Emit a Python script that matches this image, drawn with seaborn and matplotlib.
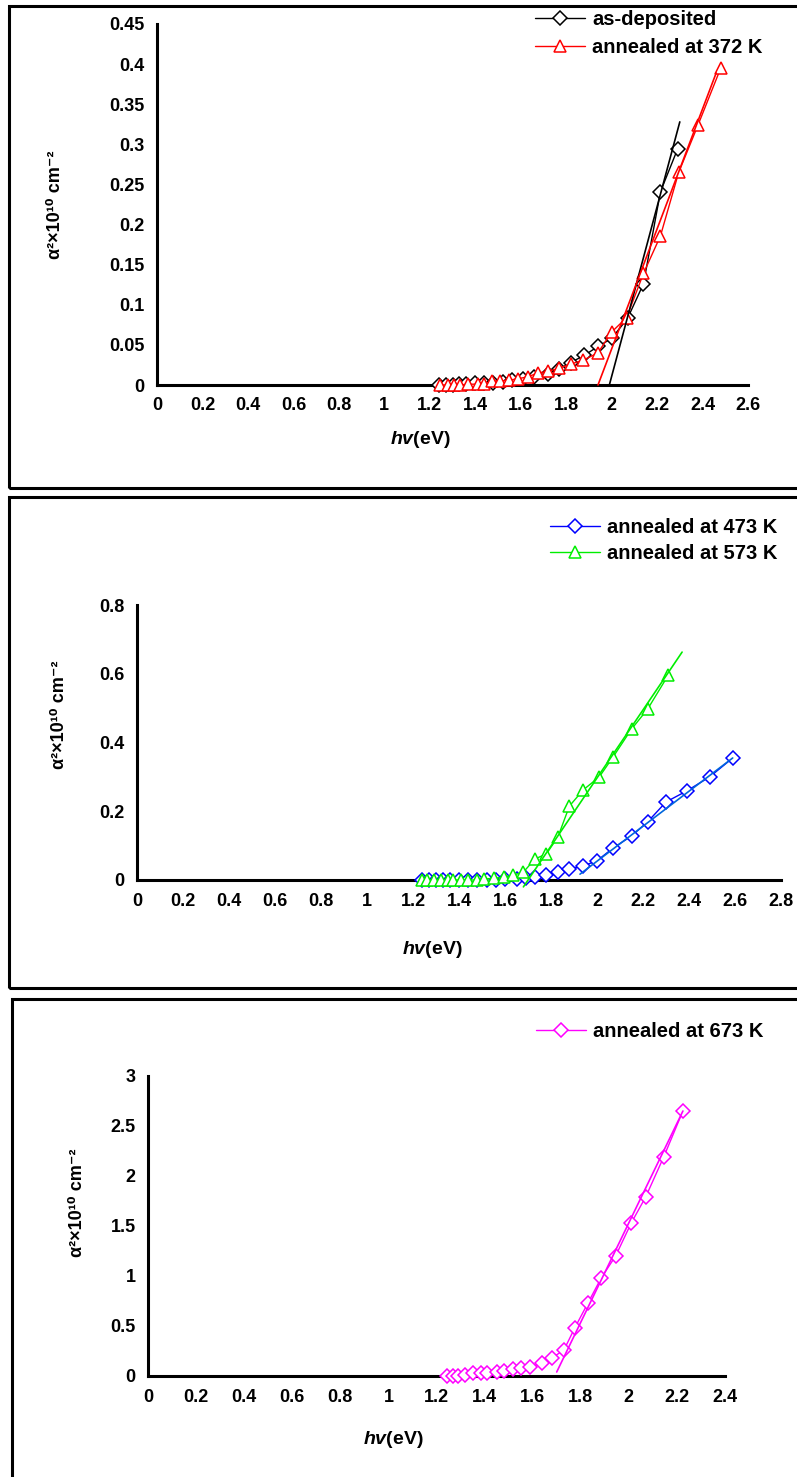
import numpy as np
import pandas as pd
import matplotlib
matplotlib.use("Agg")
import matplotlib.pyplot as plt
import seaborn as sns
from matplotlib.patches import Rectangle
from matplotlib.ticker import FixedLocator, FormatStrFormatter

# ---- panel 1 : as-deposited and annealed at 372 K ----
hv_asdep = [1.24, 1.27, 1.30, 1.33, 1.36, 1.40, 1.44, 1.48, 1.52, 1.56, 1.61, 1.66,
            1.72, 1.77, 1.82, 1.88, 1.94, 2.00, 2.07, 2.14, 2.215, 2.29]
a2_asdep = [0.0, 0.0, 0.0, 0.001, 0.001, 0.002, 0.003, 0.003, 0.004, 0.006, 0.008, 0.010,
            0.014, 0.020, 0.028, 0.037, 0.048, 0.058, 0.083, 0.126, 0.241, 0.294]
hv_372 = [1.245, 1.28, 1.305, 1.335, 1.37, 1.41, 1.44, 1.475, 1.51, 1.55, 1.59, 1.63,
          1.675, 1.72, 1.77, 1.82, 1.875, 1.94, 2.00, 2.066, 2.14, 2.215, 2.295, 2.38, 2.48]
a2_372 = [0.0, 0.0, 0.0, 0.0, 0.001, 0.001, 0.001, 0.005, 0.005, 0.006, 0.008, 0.010,
          0.015, 0.017, 0.021, 0.026, 0.031, 0.040, 0.066, 0.084, 0.139, 0.186, 0.265, 0.324, 0.395]
fit_asdep_x = [1.99, 2.30]
fit_asdep_y = [0.0, 0.328]
fit_372_x = [1.94, 2.46]
fit_372_y = [0.0, 0.389]

# ---- panel 2 : annealed at 473 K and 573 K ----
hv_473 = [1.24, 1.27, 1.30, 1.33, 1.36, 1.40, 1.44, 1.48, 1.52, 1.56, 1.60, 1.65, 1.69,
          1.73, 1.78, 1.83, 1.88, 1.94, 2.00, 2.07, 2.15, 2.22, 2.30, 2.39, 2.49, 2.59]
a2_473 = [0.0, 0.0, 0.0, 0.0, 0.0, 0.0, 0.0, 0.0, 0.0, 0.001, 0.002, 0.003, 0.005,
          0.008, 0.014, 0.024, 0.031, 0.041, 0.056, 0.093, 0.128, 0.169, 0.227, 0.259, 0.300, 0.355]
hv_573 = [1.24, 1.26, 1.29, 1.32, 1.35, 1.375, 1.41, 1.44, 1.48, 1.51, 1.55, 1.595,
          1.635, 1.68, 1.73, 1.78, 1.83, 1.88, 1.94, 2.01, 2.07, 2.15, 2.22, 2.31]
a2_573 = [0.0, 0.0, 0.0, 0.0, 0.0, 0.0, 0.0, 0.0, 0.0, 0.003, 0.005, 0.008,
          0.014, 0.023, 0.061, 0.076, 0.125, 0.215, 0.262, 0.300, 0.358, 0.439, 0.497, 0.596]
fit_473_x = [1.926, 2.59]
fit_473_y = [0.017, 0.355]
fit_573_x = [1.68, 2.37]
fit_573_y = [-0.02, 0.663]

# ---- panel 3 : annealed at 673 K ----
hv_673 = [1.245, 1.27, 1.29, 1.32, 1.35, 1.385, 1.41, 1.45, 1.48, 1.52, 1.55, 1.59,
          1.64, 1.68, 1.73, 1.775, 1.83, 1.885, 1.945, 2.01, 2.07, 2.145, 2.225]
a2_673 = [0.0, 0.0, 0.0, 0.01, 0.03, 0.03, 0.03, 0.04, 0.05, 0.07, 0.08, 0.09,
          0.13, 0.18, 0.26, 0.48, 0.73, 0.98, 1.20, 1.53, 1.79, 2.19, 2.65]
fit_673_x = [1.70, 2.225]
fit_673_y = [0.04, 2.65]

ylabel = "α²×10¹⁰ cm⁻²"
xlabel = r"$\mathit{hv}$(eV)"

sns.set_style("white")
plt.rcParams["font.family"] = ["Liberation Sans", "DejaVu Sans"]
plt.rcParams["font.weight"] = "bold"
plt.rcParams["text.color"] = "black"
plt.rcParams["xtick.color"] = "black"
plt.rcParams["ytick.color"] = "black"
plt.rcParams["mathtext.fontset"] = "custom"
plt.rcParams["mathtext.it"] = "Liberation Sans:italic:bold"
plt.rcParams["mathtext.rm"] = "Liberation Sans:bold"

W, H = 797, 1477
fig = plt.figure(figsize=(W / 100, H / 100), dpi=100)


def fx(px):
    return px / W


def fy(py):
    return 1 - py / H


def make_axes(left, right, top, bottom, xmax, ymax, ystep):
    ax = fig.add_axes([fx(left), fy(bottom), (right - left) / W, (bottom - top) / H])
    ax.set_xlim(0, xmax)
    ax.set_ylim(0, ymax)
    ax.xaxis.set_major_locator(FixedLocator(np.arange(0, xmax + 0.001, 0.2)))
    ax.yaxis.set_major_locator(FixedLocator(np.arange(0, ymax + ystep / 10, ystep)))
    ax.xaxis.set_major_formatter(FormatStrFormatter("%g"))
    ax.yaxis.set_major_formatter(FormatStrFormatter("%g"))
    for s in ["top", "right"]:
        ax.spines[s].set_visible(False)
    for s in ["left", "bottom"]:
        ax.spines[s].set_linewidth(2.2)
        ax.spines[s].set_color("black")
    ax.tick_params(direction="in", length=4, width=2, labelsize=13, pad=9,
                   color="black", labelcolor="black")
    for lab in ax.get_xticklabels() + ax.get_yticklabels():
        lab.set_fontweight("bold")
    ax.patch.set_alpha(0)
    return ax


def series(ax, x, y, color, marker, label, ms):
    sns.lineplot(x=x, y=y, ax=ax, color=color, marker=marker, markersize=ms,
                 markerfacecolor="white", markeredgecolor=color, markeredgewidth=1.1,
                 linewidth=1.0, sort=False, label=label, clip_on=False, zorder=3)


def fitline(ax, x, y, color):
    sns.lineplot(x=x, y=y, ax=ax, color=color, linewidth=1.2, sort=False,
                 label="_nolegend_", clip_on=False, zorder=4)


def legend(ax, left, top, spacing):
    leg = ax.legend(loc="upper left", bbox_to_anchor=(fx(left), fy(top)),
                    bbox_transform=fig.transFigure, frameon=False,
                    prop={"weight": "bold", "size": 14.5}, handlelength=2.5,
                    handletextpad=0.35, labelspacing=spacing, borderpad=0,
                    borderaxespad=0, numpoints=1)
    for t in leg.get_texts():
        t.set_color("black")


# panel frames
for (l, t, b) in [(9, 6, 488), (9, 497, 988), (12, 999, 1500)]:
    fig.add_artist(Rectangle((fx(l), fy(b)), (W + 20 - l) / W, (b - t) / H,
                             transform=fig.transFigure, fill=False, lw=2.2,
                             edgecolor="black", clip_on=False))

# panel 1
ax1 = make_axes(157, 748, 24, 385, 2.6, 0.45, 0.05)
series(ax1, hv_asdep, a2_asdep, "black", "D", "as-deposited", 7)
series(ax1, hv_372, a2_372, "red", "^", "annealed at 372 K", 8.5)
fitline(ax1, fit_asdep_x, fit_asdep_y, "black")
fitline(ax1, fit_372_x, fit_372_y, "red")
legend(ax1, 535, 10, 0.47)
ax1.set_xlabel("")
ax1.set_ylabel("")
fig.text(fx(420), fy(440), xlabel, ha="center", va="center", fontsize=14, fontweight="bold")
fig.text(fx(55), fy(205), ylabel, ha="center", va="center", rotation=90,
         fontsize=13, fontweight="bold")

# panel 2
ax2 = make_axes(137, 781, 605, 880, 2.8, 0.8, 0.2)
series(ax2, hv_473, a2_473, "#0000ff", "D", "annealed at 473 K", 7)
series(ax2, hv_573, a2_573, "#00ee00", "^", "annealed at 573 K", 8.5)
fitline(ax2, fit_473_x, fit_473_y, "#0066dd")
fitline(ax2, fit_573_x, fit_573_y, "#00ee00")
legend(ax2, 550, 518, 0.37)
ax2.set_xlabel("")
ax2.set_ylabel("")
fig.text(fx(432), fy(949), xlabel, ha="center", va="center", fontsize=14, fontweight="bold")
fig.text(fx(60), fy(715), ylabel, ha="center", va="center", rotation=90,
         fontsize=13, fontweight="bold")

# panel 3
ax3 = make_axes(148, 725, 1076, 1376, 2.4, 3.0, 0.5)
series(ax3, hv_673, a2_673, "#ff00ff", "D", "annealed at 673 K", 7)
fitline(ax3, fit_673_x, fit_673_y, "#ff00ff")
legend(ax3, 536, 1022, 0.4)
ax3.set_xlabel("")
ax3.set_ylabel("")
fig.text(fx(393), fy(1440), xlabel, ha="center", va="center", fontsize=14, fontweight="bold")
fig.text(fx(77), fy(1203), ylabel, ha="center", va="center", rotation=90,
         fontsize=13, fontweight="bold")

fig.savefig("out.png", dpi=100)
